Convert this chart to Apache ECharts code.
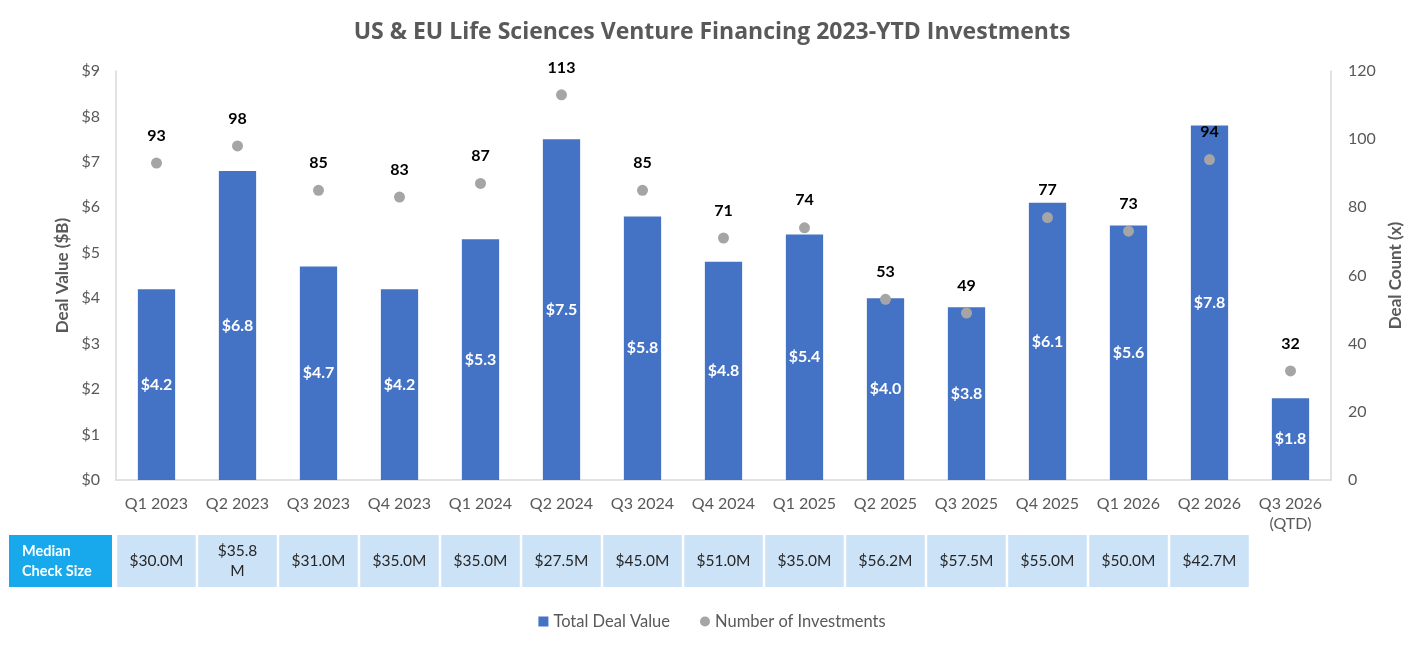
<!DOCTYPE html>
<html>
<head>
<meta charset="utf-8">
<script src="https://cdn.jsdelivr.net/npm/echarts@6/dist/echarts.min.js"></script>
<style>
  html, body { margin: 0; padding: 0; background: #fff; }
  #chart { width: 1424px; height: 648px; }
</style>
</head>
<body>
<div id="chart"></div>
<script>
var quarters = ['Q1 2023', 'Q2 2023', 'Q3 2023', 'Q4 2023', 'Q1 2024', 'Q2 2024', 'Q3 2024', 'Q4 2024',
                'Q1 2025', 'Q2 2025', 'Q3 2025', 'Q4 2025', 'Q1 2026', 'Q2 2026', 'Q3 2026\n(QTD)'];
var dealValue = [4.2, 6.8, 4.7, 4.2, 5.3, 7.5, 5.8, 4.8, 5.4, 4.0, 3.8, 6.1, 5.6, 7.8, 1.8];
var dealCount = [93, 98, 85, 83, 87, 113, 85, 71, 74, 53, 49, 77, 73, 94, 32];
var medianCheck = ['$30.0M', '$35.8\nM', '$31.0M', '$35.0M', '$35.0M', '$27.5M', '$45.0M', '$51.0M',
                   '$35.0M', '$56.2M', '$57.5M', '$55.0M', '$50.0M', '$42.7M', null];

var FONT = 'Lato';
var GREY = '#595959';

// table row: one full-height cell per quarter that has a median value
var cellData = medianCheck.map(function (m) { return m === null ? '-' : 1; });

var chart = echarts.init(document.getElementById('chart'));

chart.setOption({
    backgroundColor: '#fff',
    textStyle: { fontFamily: FONT },
    title: {
        text: 'US & EU Life Sciences Venture Financing 2023-YTD Investments',
        left: 'center',
        top: 16,
        textStyle: { fontFamily: 'Open Sans', fontSize: 23, fontWeight: 'bold', color: GREY }
    },
    legend: {
        bottom: 13,
        left: 'center',
        itemWidth: 10,
        itemHeight: 10,
        itemGap: 30,
        textStyle: { fontFamily: FONT, fontSize: 16.5, color: GREY },
        data: [
            { name: 'Total Deal Value', icon: 'rect' },
            { name: 'Number of Investments', icon: 'circle' }
        ]
    },
    grid: [
        { left: 116, right: 93, top: 71, bottom: 168 },
        { left: 116, right: 93, top: 535, height: 52 }
    ],
    xAxis: [
        {
            type: 'category', gridIndex: 0, data: quarters,
            axisLine: { lineStyle: { color: '#D9D9D9', width: 1.5 } },
            axisTick: { show: false },
            axisLabel: { fontFamily: FONT, fontSize: 16, color: GREY, margin: 14, lineHeight: 20, interval: 0 }
        },
        {
            type: 'category', gridIndex: 1, data: quarters,
            show: false
        }
    ],
    yAxis: [
        {
            type: 'value', gridIndex: 0, min: 0, max: 9, interval: 1,
            name: 'Deal Value ($B)', nameLocation: 'middle', nameGap: 44,
            nameTextStyle: { fontFamily: FONT, fontSize: 17, fontWeight: 'bold', color: GREY },
            axisLine: { show: true, lineStyle: { color: '#D9D9D9', width: 1.5 } },
            axisTick: { show: false },
            splitLine: { show: false },
            axisLabel: { fontFamily: FONT, fontSize: 16, color: GREY, margin: 16,
                formatter: function (v) { return '$' + v; } }
        },
        {
            type: 'value', gridIndex: 0, min: 0, max: 120, interval: 20, position: 'right',
            name: 'Deal Count (x)', nameLocation: 'middle', nameGap: 52, nameRotate: 90,
            nameTextStyle: { fontFamily: FONT, fontSize: 17, fontWeight: 'bold', color: GREY },
            axisLine: { show: true, lineStyle: { color: '#D9D9D9', width: 1.5 } },
            axisTick: { show: false },
            splitLine: { show: false },
            axisLabel: { fontFamily: FONT, fontSize: 16, color: GREY, margin: 17 }
        },
        {
            type: 'value', gridIndex: 1, min: 0, max: 1, show: false
        }
    ],
    series: [
        {
            name: 'Total Deal Value',
            type: 'bar',
            xAxisIndex: 0, yAxisIndex: 0,
            data: dealValue,
            barWidth: '46%',
            itemStyle: { color: '#4472C4' },
            label: {
                show: true, position: 'inside', color: '#fff',
                fontFamily: FONT, fontSize: 16, fontWeight: 'bold',
                formatter: function (p) { return '$' + p.value.toFixed(1); }
            },
            z: 2
        },
        {
            name: 'Number of Investments',
            type: 'scatter',
            xAxisIndex: 0, yAxisIndex: 1,
            data: dealCount,
            symbolSize: 11,
            itemStyle: { color: '#A5A5A5', opacity: 1 },
            label: {
                show: true, position: 'top', distance: 14, color: '#000',
                fontFamily: FONT, fontSize: 16, fontWeight: 'bold'
            },
            z: 3
        },
        {
            name: 'Median Check Size',
            type: 'bar',
            xAxisIndex: 1, yAxisIndex: 2,
            data: cellData,
            barWidth: '97%',
            silent: true,
            itemStyle: { color: '#CCE3F7' },
            label: {
                show: true, position: 'inside', color: '#262626',
                fontFamily: FONT, fontSize: 15.5, lineHeight: 20,
                formatter: function (p) { return medianCheck[p.dataIndex] || ''; }
            }
        }
    ],
    graphic: [
        {
            type: 'rect',
            shape: { x: 9, y: 535, width: 103, height: 52 },
            style: { fill: '#17A9EC' }
        },
        {
            type: 'text',
            x: 22, y: 561,
            style: {
                text: 'Median\nCheck Size',
                fill: '#fff',
                font: 'bold 14.5px Lato',
                lineHeight: 20,
                verticalAlign: 'middle'
            }
        }
    ]
});
</script>
</body>
</html>
